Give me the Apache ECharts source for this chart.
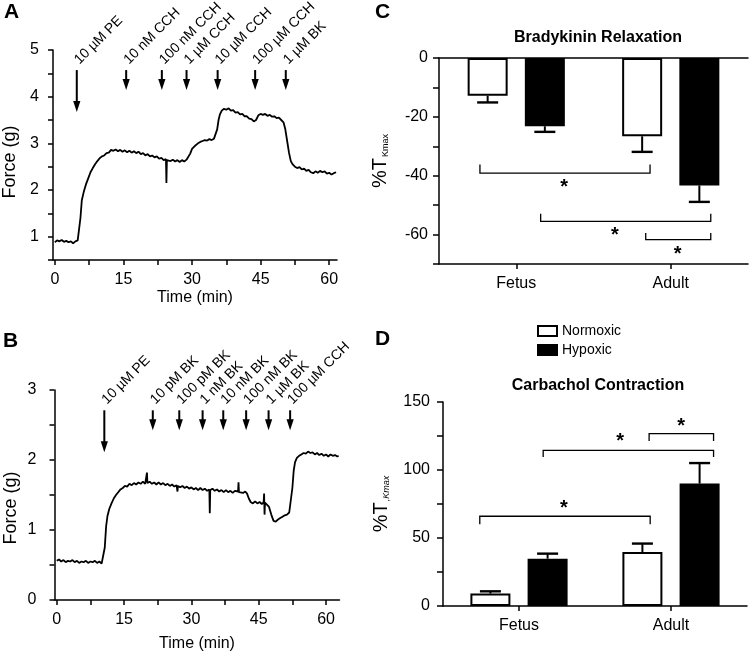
<!DOCTYPE html>
<html><head><meta charset="utf-8">
<script src="https://cdn.jsdelivr.net/npm/echarts@6/dist/echarts.min.js"></script>
<style>html,body{margin:0;padding:0;background:#fff}#c{width:750px;height:655px}</style>
</head><body><div id="c"></div>
<script>
const FONT = "'Liberation Sans', Arial, Helvetica, sans-serif";

// ---------- Panel A: force trace (time min, force g) ----------
const traceA = [[0,0.88],[0.5,0.92],[1,0.9],[1.5,0.93],[2,0.89],[2.5,0.91],[3,0.88],[3.5,0.9],[4,0.86],[4.5,0.9],[5,0.92],[5.3,0.95],[5.6,1.4],[5.9,1.78],[6.3,1.95],[6.8,2.12],[7.3,2.25],[7.8,2.38],[8.3,2.47],[8.8,2.55],[9.3,2.62],[9.8,2.68],[10.3,2.72],[10.8,2.74],[11.3,2.79],[11.8,2.8],[12.3,2.86],[12.8,2.84],[13.3,2.87],[13.8,2.83],[14.3,2.86],[14.8,2.82],[15.3,2.85],[15.8,2.81],[16.3,2.84],[16.8,2.8],[17.3,2.83],[17.8,2.79],[18.3,2.82],[18.8,2.77],[19.3,2.79],[19.8,2.74],[20.3,2.77],[20.8,2.72],[21.3,2.74],[21.8,2.7],[22.3,2.72],[22.8,2.67],[23.3,2.69],[23.8,2.64],[24.3,2.66],[24.4,2.15],[24.5,2.64],[24.8,2.66],[25.3,2.62],[25.8,2.65],[26.3,2.61],[26.8,2.64],[27.3,2.6],[27.8,2.64],[28.3,2.61],[28.8,2.65],[29.2,2.68],[29.6,2.78],[30,2.88],[30.4,2.92],[30.8,2.96],[31.3,3.0],[31.8,3.03],[32.3,3.05],[32.8,3.07],[33.3,3.06],[33.8,3.09],[34.3,3.07],[34.8,3.1],[35.2,3.12],[35.5,3.3],[35.8,3.5],[36.1,3.62],[36.5,3.7],[37,3.74],[37.5,3.72],[38,3.75],[38.5,3.7],[39,3.71],[39.5,3.66],[40,3.67],[40.5,3.62],[41,3.63],[41.5,3.58],[42,3.58],[42.5,3.53],[43,3.52],[43.5,3.47],[44,3.5],[44.5,3.6],[45,3.63],[45.5,3.61],[46,3.63],[46.5,3.59],[47,3.61],[47.5,3.57],[48,3.58],[48.5,3.54],[49,3.55],[49.5,3.5],[50,3.45],[50.4,3.3],[50.8,3.05],[51.2,2.8],[51.6,2.62],[52,2.55],[52.5,2.5],[53,2.47],[53.5,2.49],[54,2.44],[54.5,2.46],[55,2.41],[55.5,2.43],[56,2.38],[56.5,2.36],[57,2.4],[57.5,2.37],[58,2.41],[58.5,2.38],[59,2.4],[59.5,2.35],[60,2.37],[60.5,2.33],[61,2.36],[61.5,2.38]];
const arrowTimeA = [4.8, 15.6, 23.4, 28.8, 35.6, 43.8, 50.5];
const arrowLabelA = ['10 \u00b5M PE', '10 nM CCH', '100 nM CCH', '1 \u00b5M CCH', '10 \u00b5M CCH', '100 \u00b5M CCH', '1 \u00b5M BK'];

// ---------- Panel B ----------
const traceB = [[0,0.56],[0.5,0.58],[1,0.55],[1.5,0.57],[2,0.54],[2.5,0.56],[3,0.55],[3.5,0.57],[4,0.54],[4.5,0.56],[5,0.53],[5.5,0.55],[6,0.54],[6.5,0.56],[7,0.53],[7.5,0.55],[8,0.54],[8.5,0.56],[9,0.53],[9.5,0.55],[10,0.52],[10.4,0.54],[10.7,0.75],[11,1.05],[11.3,1.2],[11.7,1.3],[12.2,1.38],[12.7,1.45],[13.2,1.5],[13.7,1.54],[14.2,1.58],[14.7,1.6],[15.2,1.63],[15.7,1.62],[16.2,1.66],[16.7,1.64],[17.2,1.67],[17.7,1.65],[18.2,1.68],[18.7,1.66],[19.2,1.69],[19.7,1.66],[20,1.68],[20.1,1.82],[20.2,1.67],[20.7,1.69],[21.2,1.66],[21.7,1.68],[22.2,1.65],[22.7,1.68],[23.2,1.65],[23.7,1.67],[24.2,1.64],[24.7,1.66],[25.2,1.63],[25.7,1.65],[26.2,1.62],[26.7,1.64],[26.9,1.55],[27,1.63],[27.5,1.61],[28,1.63],[28.5,1.6],[29,1.62],[29.5,1.59],[30,1.61],[30.5,1.58],[31,1.6],[31.5,1.57],[32,1.6],[32.5,1.57],[33,1.59],[33.5,1.56],[34,1.58],[34.1,1.24],[34.2,1.57],[34.7,1.59],[35.2,1.56],[35.7,1.58],[36.2,1.55],[36.7,1.57],[37.2,1.54],[37.7,1.57],[38.2,1.54],[38.7,1.56],[39.2,1.53],[39.7,1.56],[40.4,1.55],[40.5,1.68],[40.6,1.54],[41,1.56],[41.5,1.53],[42,1.55],[42.4,1.52],[42.8,1.45],[43.2,1.4],[43.7,1.38],[44.2,1.41],[44.7,1.38],[45.2,1.4],[45.7,1.37],[46.1,1.4],[46.2,1.52],[46.3,1.22],[46.4,1.39],[46.8,1.38],[47.3,1.33],[47.8,1.22],[48.3,1.13],[48.8,1.12],[49.3,1.15],[49.8,1.17],[50.3,1.19],[50.8,1.21],[51.3,1.22],[51.8,1.25],[52.2,1.27],[52.5,1.6],[52.8,1.85],[53.1,1.97],[53.5,2.03],[54,2.06],[54.5,2.08],[55,2.1],[55.5,2.09],[56,2.12],[56.5,2.1],[57,2.11],[57.5,2.08],[58,2.1],[58.5,2.07],[59,2.09],[59.5,2.06],[60,2.08],[60.5,2.05],[61,2.08],[61.5,2.06],[62,2.07],[62.5,2.05],[62.8,2.06]];
const arrowTimeB = [10.6, 21.4, 27.3, 32.5, 37.1, 42.2, 47.2, 52.0];
const arrowLabelB = ['10 \u00b5M PE', '10 pM BK', '100 pM BK', '1 nM BK', '10 nM BK', '100 nM BK', '1 \u00b5M BK', '100 \u00b5M CCH'];

// ---------- Panels C & D: bars ----------
const groups = ['Fetus', 'Adult'];
const brkNormoxic = [-12.8, -26.6];
const brkNormoxicErr = [2.3, 5.3];
const brkHypoxic = [-23.2, -43.3];
const brkHypoxicErr = [1.9, 5.6];
const carbNormoxic = [9.1, 39.7];
const carbNormoxicErr = [1.7, 6.2];
const carbHypoxic = [34.8, 90.0];
const carbHypoxicErr = [3.7, 15.1];
// significance brackets: [xStart, xEnd, yLine, yTip, xStar, yStar] (x in category units 0..2)
const bracketsC = [[0.265, 1.366, -39.1, -36.2, 0.81, -42.5], [0.658, 1.759, -55.5, -52.9, 1.139, -58.9], [1.338, 1.759, -61.7, -59.5, 1.545, -65.4]];
const bracketsD = [[0.242, 1.363, 66.0, 60.1, 0.796, 74.8], [0.659, 1.78, 114.5, 109.6, 1.165, 123.8], [1.356, 1.78, 126.8, 121.3, 1.567, 134.6]];

const BAR_W = 40, BAR_GAP = 0.43, CAP = 21;
const SIDE = BAR_W * (1 + BAR_GAP) / 2;

function arrowRender(times, labels, topVal, labelVal, longLen, shortLen) {
  return function (params, api) {
    const i = params.dataIndex;
    const p = api.coord([times[i], topVal]);
    const lp = api.coord([times[i], labelVal]);
    const len = i === 0 ? longLen : shortLen;
    const head = 11, hw = 3.6;
    return { type: 'group', children: [
      { type: 'line', shape: { x1: p[0], y1: p[1], x2: p[0], y2: p[1] + len - head + 1 }, style: { stroke: '#000', lineWidth: 2 } },
      { type: 'polygon', shape: { points: [[p[0] - hw, p[1] + len - head], [p[0] + hw, p[1] + len - head], [p[0], p[1] + len]] }, style: { fill: '#000' } },
      { type: 'text', x: lp[0], y: lp[1], rotation: Math.PI / 4,
        style: { text: labels[i], font: '14px ' + FONT, fill: '#000', align: 'left', verticalAlign: 'middle', textAlign: 'left', textVerticalAlign: 'middle' } }
    ] };
  };
}
function errRender(values, errs, dir, side) {
  return function (params, api) {
    const i = params.dataIndex;
    const b = api.coord([i, values[i]]);
    const e = api.coord([i, values[i] + dir * errs[i]]);
    const x = b[0] + side;
    return { type: 'group', children: [
      { type: 'line', shape: { x1: x, y1: b[1], x2: x, y2: e[1] }, style: { stroke: '#000', lineWidth: 2 } },
      { type: 'line', shape: { x1: x - CAP / 2, y1: e[1], x2: x + CAP / 2, y2: e[1] }, style: { stroke: '#000', lineWidth: 2.4 } }
    ] };
  };
}
function bracketRender(list) {
  return function (params, api) {
    const d = list[params.dataIndex];
    const a = api.coord([d[0], d[3]]), b = api.coord([d[0], d[2]]), c = api.coord([d[1], d[2]]), e = api.coord([d[1], d[3]]);
    const s = api.coord([d[4], d[5]]);
    return { type: 'group', children: [
      { type: 'polyline', shape: { points: [a, b, c, e] }, style: { stroke: '#000', lineWidth: 1.3, fill: null } },
      { type: 'text', x: s[0], y: s[1] + 4, style: { text: '*', font: 'bold 20px ' + FONT, fill: '#000', align: 'center', verticalAlign: 'middle', textAlign: 'center', textVerticalAlign: 'middle' } }
    ] };
  };
}

const axisLineStyle = { color: '#000', width: 1.5 };
const tickStyle = { color: '#000', width: 1.5 };
const labelStyle = { color: '#000', fontSize: 16, fontFamily: FONT };

function timeAxis(gridIndex, min, max, gap) {
  return {
    type: 'value', gridIndex: gridIndex, min: min, max: max,
    name: 'Time (min)', nameLocation: 'middle', nameGap: gap,
    nameTextStyle: { color: '#000', fontSize: 16, fontFamily: FONT },
    axisLine: { show: true, onZero: false, lineStyle: axisLineStyle },
    axisTick: { show: true, length: 5, lineStyle: tickStyle, customValues: [0, 7.5, 15, 22.5, 30, 37.5, 45, 52.5, 60] },
    axisLabel: { ...labelStyle, margin: 12, customValues: [0, 15, 30, 45, 60] },
    splitLine: { show: false }
  };
}
function forceAxis(gridIndex, min, max, margin, shift) {
  return {
    type: 'value', gridIndex: gridIndex, min: min, max: max, interval: 0.5,
    name: 'Force (g)', nameLocation: 'middle', nameGap: 34,
    nameTextStyle: { color: '#000', fontSize: 18, fontFamily: FONT, padding: [0, shift, 0, 0] },
    axisLine: { show: true, onZero: false, lineStyle: axisLineStyle },
    axisTick: { show: true, length: 5, lineStyle: tickStyle },
    axisLabel: { ...labelStyle, margin: margin, formatter: v => (Math.abs(v - Math.round(v)) < 1e-6 ? String(Math.round(v)) : '') },
    splitLine: { show: false }
  };
}
function catAxis(gridIndex) {
  return {
    type: 'category', gridIndex: gridIndex, data: groups,
    axisLine: { show: true, onZero: false, lineStyle: axisLineStyle },
    axisTick: { show: true, alignWithLabel: true, length: 5, lineStyle: tickStyle },
    axisLabel: { ...labelStyle, margin: 12 },
    splitLine: { show: false }
  };
}

const chart = echarts.init(document.getElementById('c'), null, { renderer: 'canvas' });
chart.setOption({
  animation: false,
  backgroundColor: '#fff',
  textStyle: { fontFamily: FONT },
  title: [
    { text: 'Bradykinin Relaxation', left: 593, top: 25, textAlign: 'center', textStyle: { fontSize: 16, fontWeight: 'bold', color: '#000', fontFamily: FONT } },
    { text: 'Carbachol Contraction', left: 593, top: 373, textAlign: 'center', textStyle: { fontSize: 16, fontWeight: 'bold', color: '#000', fontFamily: FONT } }
  ],
  legend: {
    data: ['Normoxic', 'Hypoxic'], orient: 'vertical', left: 532, top: 319,
    itemWidth: 19, itemHeight: 10, itemGap: 5, icon: 'rect', selectedMode: false,
    textStyle: { fontSize: 14, color: '#000', fontFamily: FONT }
  },
  graphic: [
    { type: 'text', left: 4, top: 2, style: { text: 'A', font: 'bold 21px ' + FONT, fill: '#000' } },
    { type: 'text', left: 3, top: 331, style: { text: 'B', font: 'bold 21px ' + FONT, fill: '#000' } },
    { type: 'text', left: 375, top: 2, style: { text: 'C', font: 'bold 21px ' + FONT, fill: '#000' } },
    { type: 'text', left: 375, top: 329, style: { text: 'D', font: 'bold 21px ' + FONT, fill: '#000' } }
  ],
  grid: [
    { left: 52, top: 50, width: 285, height: 210 },
    { left: 54.5, top: 390, width: 285, height: 210 },
    { left: 439, top: 58, width: 309, height: 206 },
    { left: 443, top: 402, width: 304, height: 204 }
  ],
  xAxis: [
    timeAxis(0, -0.4, 61.7, 30),
    timeAxis(1, -0.5, 63, 36),
    catAxis(2),
    { type: 'value', gridIndex: 2, min: 0, max: 2, position: 'top', axisLine: { show: true, onZero: false, lineStyle: axisLineStyle }, axisTick: { show: false }, axisLabel: { show: false }, splitLine: { show: false } },
    catAxis(3),
    { type: 'value', gridIndex: 3, min: 0, max: 2, show: false, splitLine: { show: false } }
  ],
  yAxis: [
    forceAxis(0, 0.5, 5, 14, 14),
    forceAxis(1, 0, 3, 18, 26),
    {
      type: 'value', gridIndex: 2, min: -70, max: 0, interval: 10,
      name: '{a|%T}{b|Kmax}', nameLocation: 'middle', nameGap: 49,
      nameTextStyle: { color: '#000', fontFamily: FONT, rich: { a: { fontSize: 20, fontFamily: FONT, color: '#000' }, b: { fontSize: 9, fontFamily: FONT, color: '#000', verticalAlign: 'bottom', padding: [8, 0, 0, 1] } } },
      axisLine: { show: true, onZero: false, lineStyle: axisLineStyle },
      axisTick: { show: true, length: 6, lineStyle: tickStyle },
      axisLabel: { ...labelStyle, margin: 11, formatter: v => (v % 20 === 0 ? String(v) : '') },
      splitLine: { show: false }
    },
    {
      type: 'value', gridIndex: 3, min: 0, max: 150, interval: 25,
      name: '{a|%T}{b|,Kmax}', nameLocation: 'middle', nameGap: 52,
      nameTextStyle: { color: '#000', fontFamily: FONT, rich: { a: { fontSize: 20, fontFamily: FONT, color: '#000' }, b: { fontSize: 9, fontStyle: 'italic', fontFamily: FONT, color: '#000', verticalAlign: 'bottom', padding: [8, 0, 0, 1] } } },
      axisLine: { show: true, onZero: false, lineStyle: axisLineStyle },
      axisTick: { show: true, length: 6, lineStyle: tickStyle },
      axisLabel: { ...labelStyle, margin: 13, formatter: v => (v % 50 === 0 ? String(v) : '') },
      splitLine: { show: false }
    }
  ],
  series: [
    { type: 'line', xAxisIndex: 0, yAxisIndex: 0, data: traceA, showSymbol: false, symbol: 'none', lineStyle: { color: '#000', width: 1.8 }, silent: true },
    { type: 'custom', xAxisIndex: 0, yAxisIndex: 0, data: arrowTimeA.map(t => [t]), renderItem: arrowRender(arrowTimeA, arrowLabelA, 4.57, 4.74, 42, 20), silent: true },
    { type: 'line', xAxisIndex: 1, yAxisIndex: 1, data: traceB, showSymbol: false, symbol: 'none', lineStyle: { color: '#000', width: 1.8 }, silent: true },
    { type: 'custom', xAxisIndex: 1, yAxisIndex: 1, data: arrowTimeB.map(t => [t]), renderItem: arrowRender(arrowTimeB, arrowLabelB, 2.71, 2.83, 42, 20), silent: true },

    { name: 'Normoxic', type: 'bar', xAxisIndex: 2, yAxisIndex: 2, data: brkNormoxic, barWidth: BAR_W, barGap: (BAR_GAP * 100) + '%', itemStyle: { color: '#fff', borderColor: '#000', borderWidth: 2 } },
    { name: 'Hypoxic', type: 'bar', xAxisIndex: 2, yAxisIndex: 2, data: brkHypoxic, barWidth: BAR_W, barGap: (BAR_GAP * 100) + '%', itemStyle: { color: '#000', borderColor: '#000', borderWidth: 2 } },
    { type: 'custom', xAxisIndex: 2, yAxisIndex: 2, data: brkNormoxic.map((v, i) => [i, v]), renderItem: errRender(brkNormoxic, brkNormoxicErr, -1, -SIDE), silent: true },
    { type: 'custom', xAxisIndex: 2, yAxisIndex: 2, data: brkHypoxic.map((v, i) => [i, v]), renderItem: errRender(brkHypoxic, brkHypoxicErr, -1, SIDE), silent: true },
    { type: 'custom', xAxisIndex: 3, yAxisIndex: 2, data: bracketsC, encode: { x: [0, 1, 4], y: [2, 3, 5] }, renderItem: bracketRender(bracketsC), silent: true },

    { name: 'Normoxic', type: 'bar', xAxisIndex: 4, yAxisIndex: 3, data: carbNormoxic, barWidth: BAR_W, barGap: (BAR_GAP * 100) + '%', itemStyle: { color: '#fff', borderColor: '#000', borderWidth: 2 } },
    { name: 'Hypoxic', type: 'bar', xAxisIndex: 4, yAxisIndex: 3, data: carbHypoxic, barWidth: BAR_W, barGap: (BAR_GAP * 100) + '%', itemStyle: { color: '#000', borderColor: '#000', borderWidth: 2 } },
    { type: 'custom', xAxisIndex: 4, yAxisIndex: 3, data: carbNormoxic.map((v, i) => [i, v]), renderItem: errRender(carbNormoxic, carbNormoxicErr, 1, -SIDE), silent: true },
    { type: 'custom', xAxisIndex: 4, yAxisIndex: 3, data: carbHypoxic.map((v, i) => [i, v]), renderItem: errRender(carbHypoxic, carbHypoxicErr, 1, SIDE), silent: true },
    { type: 'custom', xAxisIndex: 5, yAxisIndex: 3, data: bracketsD, encode: { x: [0, 1, 4], y: [2, 3, 5] }, renderItem: bracketRender(bracketsD), silent: true }
  ]
});
</script></body></html>
